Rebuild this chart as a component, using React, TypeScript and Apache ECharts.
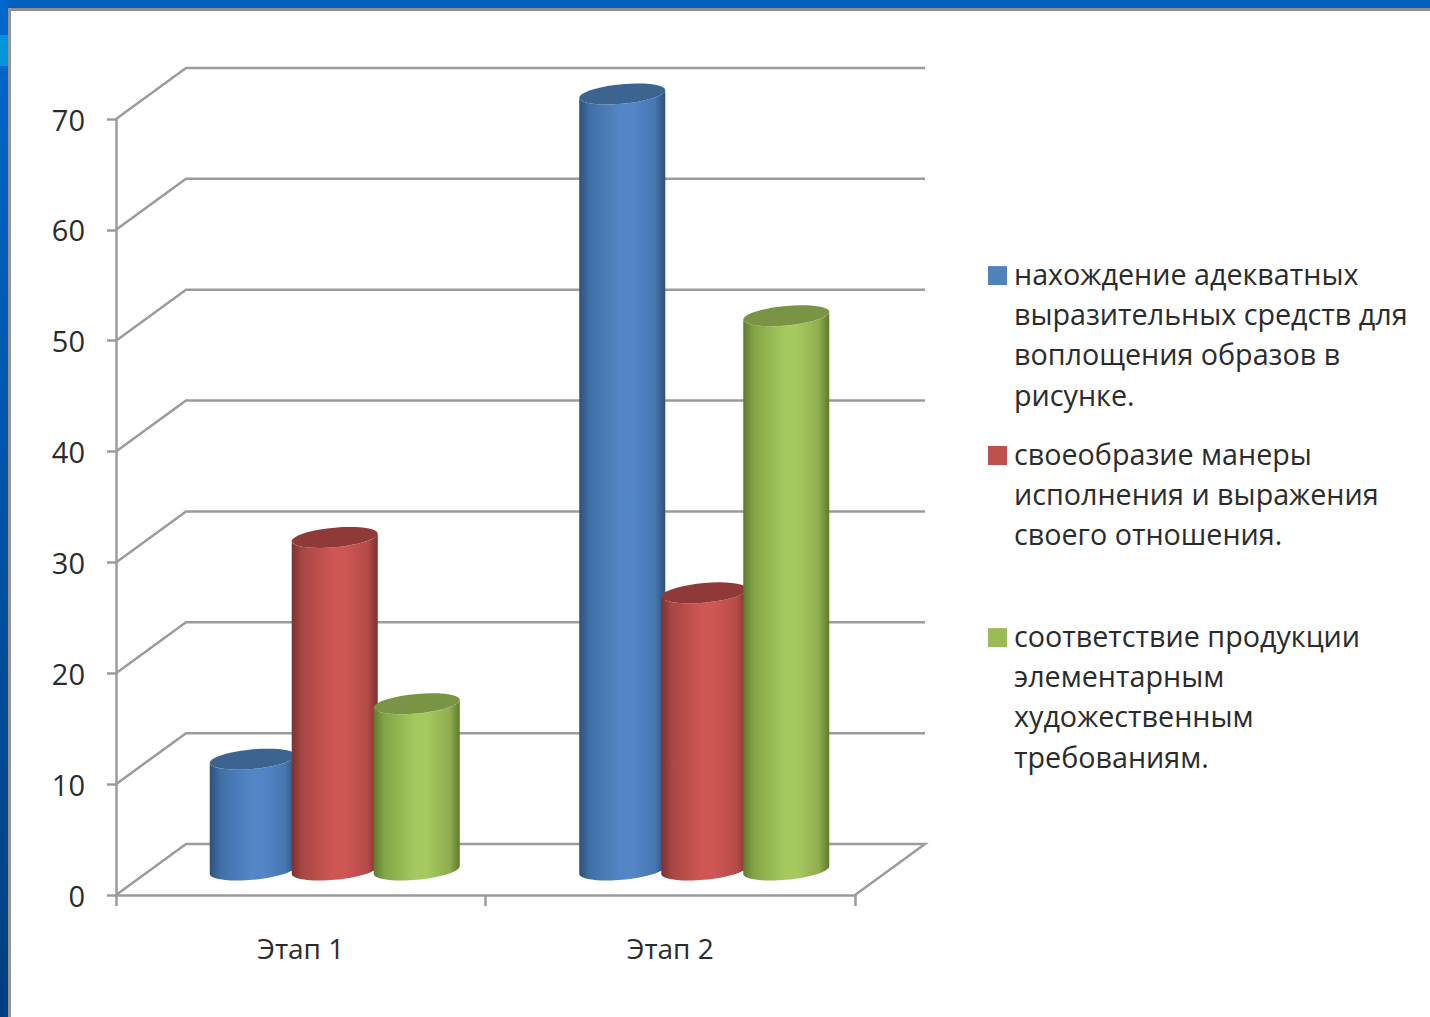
import React, { useEffect, useRef } from "react";
import * as echarts from "echarts";

const categories = ["Этап 1", "Этап 2"];
const yTicks = [0, 10, 20, 30, 40, 50, 60, 70];
const seriesNames = [
  "нахождение адекватных выразительных средств для воплощения образов в рисунке.",
  "своеобразие манеры исполнения и выражения своего отношения.",
  "соответствие продукции элементарным художественным требованиям.",
];
const wrappedNames = [
  "нахождение адекватных\nвыразительных средств для\nвоплощения образов в\nрисунке.",
  "своеобразие манеры\nисполнения и выражения\nсвоего отношения.",
  "соответствие продукции\nэлементарным\nхудожественным\nтребованиям.",
];
const findingValues = [10, 70];
const mannerValues = [30, 25];
const matchValues = [15, 50];

const FONT = "'Open Sans', sans-serif";
const TEXT = "#2b2b2b";
const GRID = "#9b9b9b";
const DX = 70;
const DY = -51;
const SLOT = 82;
const RX = 43;
const RY = 9.8;
const TILT = 3.8;
const DEPTH_X = 34;
const DEPTH_Y = -25;
const LINE = 40.3;

const palettes = [
  { edge: "#2d5079", shade: "#3f6fa7", mid: "#5386c7", late: "#4677b0", top: "#3c6491", legend: "#4f81bd" },
  { edge: "#7c3230", shade: "#a84644", mid: "#cf5753", late: "#b34b48", top: "#8f3a38", legend: "#c0504d" },
  { edge: "#5f7a2c", shade: "#83a445", mid: "#a5c95f", late: "#8fae4e", top: "#7a9446", legend: "#9bbb59" },
];

function ellipseArc(cx: number, cy: number, from: number, to: number) {
  const pts: number[][] = [];
  const n = 36;
  for (let i = 0; i <= n; i++) {
    const t = from + ((to - from) * i) / n;
    pts.push([cx + RX * Math.cos(t), cy + RY * Math.sin(t) - TILT * Math.cos(t)]);
  }
  return pts;
}

function cylinderSeries(index: number, values: number[]) {
  const p = palettes[index];
  return {
    type: "custom",
    name: seriesNames[index],
    coordinateSystem: "cartesian2d",
    clip: false,
    silent: true,
    z: 5 + index,
    itemStyle: { color: p.legend },
    encode: { x: 0, y: 1 },
    data: values.map((v, i) => [i, v]),
    renderItem: (_: any, api: any) => {
      const top = api.coord([api.value(0), api.value(1)]);
      const base = api.coord([api.value(0), 0]);
      const cx = top[0] + DEPTH_X + (index - 1) * SLOT;
      const topY = top[1] + DEPTH_Y;
      const baseY = base[1] + DEPTH_Y;
      const bottom = ellipseArc(cx, baseY, Math.PI, 0);
      const topLower = ellipseArc(cx, topY, 0, Math.PI);
      const cap = ellipseArc(cx, topY, 0, Math.PI * 2);
      return {
        type: "group",
        children: [
          {
            type: "polygon",
            shape: { points: [...bottom, ...topLower] },
            style: {
              fill: new echarts.graphic.LinearGradient(0, 0, 1, 0, [
                { offset: 0, color: p.edge },
                { offset: 0.12, color: p.shade },
                { offset: 0.48, color: p.mid },
                { offset: 0.62, color: p.mid },
                { offset: 0.88, color: p.late },
                { offset: 1, color: p.edge },
              ]),
            },
          },
          { type: "polygon", shape: { points: cap }, style: { fill: p.top } },
        ],
      };
    },
  };
}

function legendBlock(index: number, top: number) {
  const lines = wrappedNames[index].split("\n").length;
  const h = Math.round(lines * LINE);
  const offset = 13;
  return {
    show: true,
    data: [seriesNames[index]],
    left: 988,
    top,
    orient: "vertical",
    itemWidth: 21,
    itemHeight: h,
    icon: `path://M0 ${offset}H19V${offset + 19}H0Z M21 ${h}L21 ${h} M0 0L0 0`,
    itemStyle: { borderWidth: 0 },
    formatter: () => wrappedNames[index],
    selectedMode: false,
    padding: 0,
    textStyle: { fontFamily: FONT, fontSize: 28.7, color: TEXT, lineHeight: LINE },
  };
}

export default function App() {
  const ref = useRef<HTMLDivElement>(null);
  useEffect(() => {
    const chart = echarts.init(ref.current!, undefined, { renderer: "svg" });
    chart.setOption({
      animation: false,
      backgroundColor: "#ffffff",
      grid: { left: 116, top: 119, width: 739, height: 776, containLabel: false },
      xAxis: {
        type: "category",
        data: categories,
        boundaryGap: true,
        axisLine: { lineStyle: { color: GRID, width: 2.5 } },
        axisTick: { show: true, length: 11, lineStyle: { color: GRID, width: 2.5 } },
        axisLabel: { margin: 39, fontFamily: FONT, fontSize: 28, color: TEXT },
      },
      yAxis: {
        type: "value",
        min: 0,
        max: 70,
        interval: 10,
        splitLine: { show: false },
        axisLine: { show: true, lineStyle: { color: GRID, width: 2.5 } },
        axisTick: { show: true, length: 9, lineStyle: { color: GRID, width: 2.5 } },
        axisLabel: { margin: 31, padding: [6, 0, 0, 0], fontFamily: FONT, fontSize: 29, color: TEXT },
      },
      legend: [legendBlock(0, 253), legendBlock(1, 433), legendBlock(2, 615)],
      graphic: [
        { type: "rect", z: 100, shape: { x: 0, y: 0, width: 1430, height: 8 }, style: { fill: "#0060c0" } },
        { type: "rect", z: 100, shape: { x: 8, y: 8, width: 1422, height: 3 }, style: { fill: "#8f8f8f" } },
        {
          type: "rect",
          z: 100,
          shape: { x: 8, y: 8, width: 3, height: 1009 },
          style: { fill: "#949494" },
        },
        {
          type: "rect",
          z: 100,
          shape: { x: 0, y: 0, width: 8, height: 1017 },
          style: {
            fill: new echarts.graphic.LinearGradient(0, 0, 0, 1, [
              { offset: 0, color: "#0068cc" },
              { offset: 1, color: "#003f80" },
            ]),
          },
        },
        { type: "rect", z: 101, shape: { x: 0, y: 35, width: 8, height: 31 }, style: { fill: "#0096de" } },
      ],
      series: [
        {
          type: "custom",
          name: "walls",
          coordinateSystem: "cartesian2d",
          clip: false,
          silent: true,
          z: 1,
          encode: { y: 0 },
          data: yTicks.map((v) => [v]),
          renderItem: (params: any, api: any) => {
            const v = api.value(0);
            const start = api.coord([0, v]);
            const size = api.size([1, 0]);
            const x0 = start[0] - size[0] / 2;
            const x1 = x0 + size[0] * categories.length;
            const points =
              v === 0
                ? [[x0, start[1]], [x0 + DX, start[1] + DY], [x1 + DX, start[1] + DY], [x1, start[1]]]
                : [[x0, start[1]], [x0 + DX, start[1] + DY], [x1 + DX, start[1] + DY]];
            return {
              type: "polyline",
              shape: { points },
              style: { stroke: GRID, lineWidth: 2.5, fill: "none" },
            };
          },
        },
        cylinderSeries(0, findingValues),
        cylinderSeries(1, mannerValues),
        cylinderSeries(2, matchValues),
      ],
    });
    return () => chart.dispose();
  }, []);
  return <div ref={ref} style={{ position: "absolute", left: 0, top: 0, width: 1430, height: 1017 }} />;
}
